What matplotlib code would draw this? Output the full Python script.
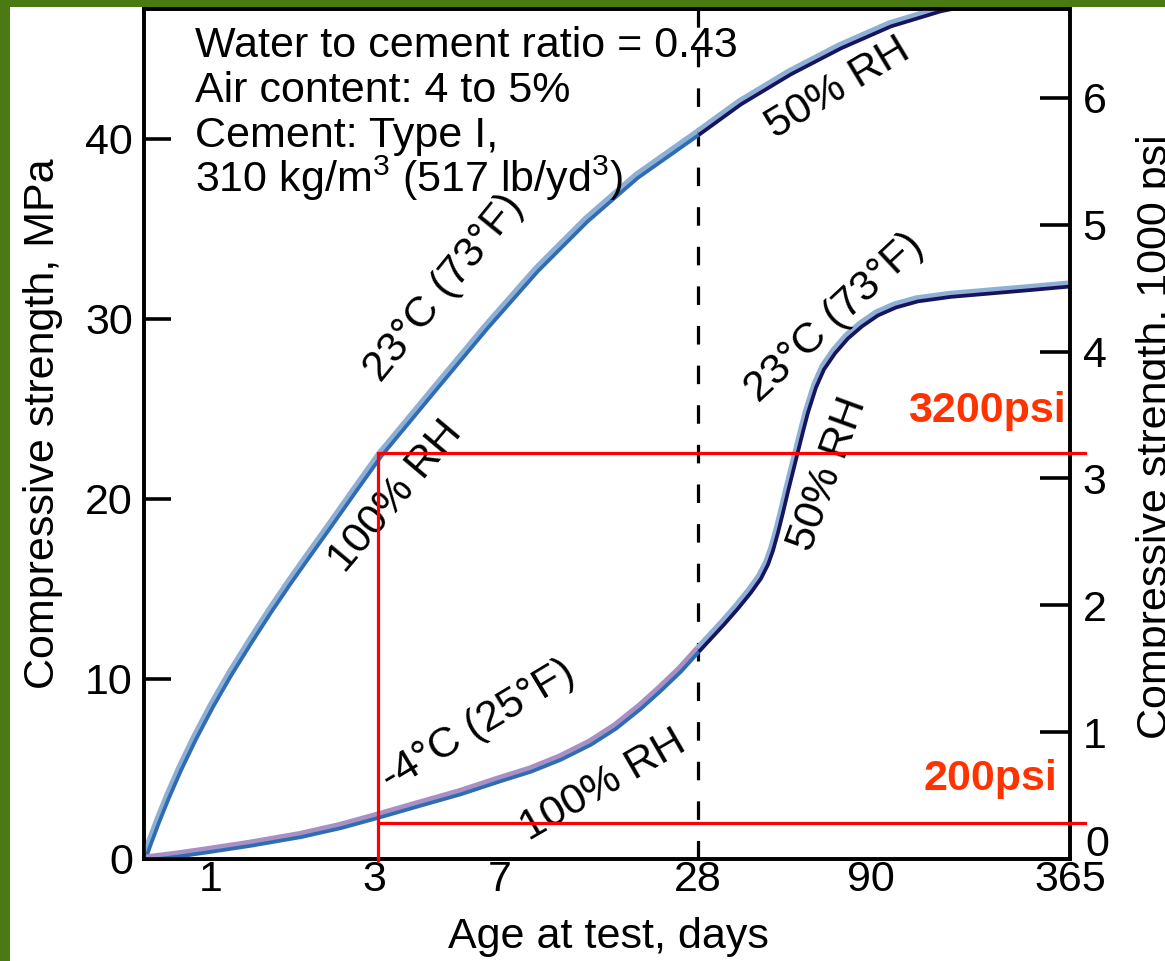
import numpy as np
import matplotlib
matplotlib.use("Agg")
import matplotlib.pyplot as plt
from matplotlib.patches import Rectangle
from matplotlib.transforms import ScaledTranslation
from matplotlib.ticker import FixedLocator, FixedFormatter

plt.rcParams['font.family'] = ['Liberation Sans', 'DejaVu Sans']
plt.rcParams['mathtext.fontset'] = 'custom'
plt.rcParams['mathtext.rm'] = 'Liberation Sans'
plt.rcParams['mathtext.it'] = 'Liberation Sans:italic'
plt.rcParams['mathtext.bf'] = 'Liberation Sans:bold'

# ---------------- data ----------------
AGE_TICKS = [1, 3, 7, 28, 90, 365]
AGE_TICK_LABELS = ['1', '3', '7', '28', '90', '365']
MPA_TICKS = [0, 10, 20, 30, 40]
KPSI_TICKS = [0, 1, 2, 3, 4, 5, 6]
KPSI_TICK_LABELS = ['', '1', '2', '3', '4', '5', '6']

# 23 C, moist cured (100% RH) up to 28 days
upper_moist_days = [0, 0.090, 0.209, 0.358, 0.537, 0.761, 1.012, 1.233, 1.479, 1.724, 1.969,
                    2.215, 2.460, 2.767, 3.190, 4.990, 6.578, 10.892, 16.195, 21.498, 28]
upper_moist_mpa = [0, 0.94, 2.12, 3.49, 5.01, 6.74, 8.53, 10.27, 12.06, 13.78, 15.41,
                   16.98, 18.53, 20.5, 22.44, 26.24, 29.57, 32.72, 35.50, 37.91, 40.31]
# then 23 C, 50% RH
upper_dry_days = [28, 43.05, 60.97, 78.89, 116.26, 185.36, 365]
upper_dry_mpa = [40.31, 42.0, 43.67, 45.11, 46.33, 47.17, 48.6]

# -4 C, 100% RH up to 28 days
lower_cold_days = [0, 0.537, 1.0, 1.479, 2.092, 2.583, 3.127, 4.460, 5.730, 7.0, 10.182,
                   13.364, 16.545, 19.197, 21.848, 23.969, 26.091, 28]
lower_cold_mpa = [0, 0.25, 0.5, 0.83, 1.31, 1.81, 2.39, 3.06, 3.69, 4.42, 4.94,
                  5.61, 6.44, 7.33, 8.44, 9.44, 10.5, 11.61]
# then 23 C, 50% RH
lower_warm_days = [28, 32.30, 36.96, 41.98, 46.64, 50.22, 52.73, 54.52, 56.32, 58.11, 59.90,
                   61.69, 63.48, 65.28, 67.07, 69.94, 72.80, 76.74, 81.40, 86.42, 98.29,
                   123.17, 153.57, 199.18, 254.46, 309.74, 365]
lower_warm_mpa = [11.61, 12.33, 13.11, 14.0, 14.89, 15.67, 16.44, 17.22, 18.22, 19.33, 20.5,
                  21.61, 22.72, 23.83, 24.89, 26.28, 27.28, 28.17, 29.0, 29.67, 30.28,
                  30.72, 31.06, 31.31, 31.5, 31.69, 31.89]

CHANGE_DAY = 28
RED_KPSI = [3.2, 0.28]
RED_DAY = 3.13
RED_TEXTS = ['3200psi', '200psi']

INFO_LINES = ['Water to cement ratio = 0.43',
              'Air content: 4 to 5%',
              'Cement: Type I,',
              '310 kg/m$^{3}$ (517 lb/yd$^{3}$)']

# ---------------- axis scale (non-uniform day axis) ----------------
AX_DAYS = np.array([0, 1, 3, 7, 28, 90, 365], float)
AX_POS = np.array([0, 67, 230, 356, 554, 727, 926], float)


def _pw(v, xs, ys):
    v = np.asarray(v, float)
    scalar = v.ndim == 0
    v = np.atleast_1d(v)
    out = np.interp(v, xs, ys)
    hi = v > xs[-1]
    out[hi] = ys[-1] + (v[hi] - xs[-1]) * (ys[-1] - ys[-2]) / (xs[-1] - xs[-2])
    lo = v < xs[0]
    out[lo] = ys[0] + (v[lo] - xs[0]) * (ys[1] - ys[0]) / (xs[1] - xs[0])
    return out[0] if scalar else out


def fwd(d):
    return _pw(d, AX_DAYS, AX_POS)


def inv(p):
    return _pw(p, AX_POS, AX_DAYS)


W, H = 1165, 961
fig = plt.figure(figsize=(W / 100, H / 100), dpi=100)
fig.patch.set_facecolor('#4c7a12')
fig.add_artist(Rectangle((10 / W, 0), 1, (H - 7) / H, transform=fig.transFigure,
                         facecolor='white', edgecolor='none', zorder=-10))

ax = fig.add_axes([144 / W, 102 / H, 926 / W, 850 / H])
ax.set_xscale('function', functions=(fwd, inv))
ax.set_xlim(0, 365)
ax.set_ylim(0, 47.2)
ax2 = ax.twinx()
ax2.set_ylim(0, 6.70)

LW_SP = 2.6
for a in (ax, ax2):
    for s in a.spines.values():
        s.set_linewidth(LW_SP)

FS = 31
ax.xaxis.set_major_locator(FixedLocator(AGE_TICKS))
ax.xaxis.set_major_formatter(FixedFormatter(AGE_TICK_LABELS))
ax.xaxis.set_minor_locator(FixedLocator([t for t in AGE_TICKS if t not in (28, 365)]))
ax.xaxis.set_minor_formatter(FixedFormatter([]))
ax.tick_params(axis='x', which='major', direction='in', length=0, labelsize=FS, pad=0.5)
ax.tick_params(axis='x', which='minor', direction='in', length=18.5, width=LW_SP)
ax.set_yticks(MPA_TICKS)
ax.tick_params(axis='y', direction='in', length=19.5, width=LW_SP, labelsize=FS, pad=8)
ax2.yaxis.set_major_locator(FixedLocator(KPSI_TICKS))
ax2.yaxis.set_major_formatter(FixedFormatter(KPSI_TICK_LABELS))
ax2.tick_params(axis='y', direction='in', length=21.5, width=LW_SP, labelsize=FS, pad=9)
# the "0" of the right axis sits a little above its tick in the reference
fig.text(1085 / W, (H - 845) / H, '0', ha='left', va='center', fontsize=FS)

# dashed change line
ax.axvline(CHANGE_DAY, color='black', lw=2.3, dashes=(5.8, 6.6), zorder=1.5)

LIGHT_BLUE = '#8fb0d4'
BLUE = '#2e6db4'
NAVY = '#141460'
PURPLE = '#a88fc4'


def band(days, vals, light, dark):
    t_light = ax.transData + ScaledTranslation(-1.0 / 100, 1.7 / 100, fig.dpi_scale_trans)
    t_dark = ax.transData + ScaledTranslation(1.0 / 100, -1.7 / 100, fig.dpi_scale_trans)
    ax.plot(days, vals, color=light, lw=3.7, transform=t_light,
            solid_capstyle='butt', solid_joinstyle='round', zorder=3)
    ax.plot(days, vals, color=dark, lw=2.7, transform=t_dark,
            solid_capstyle='butt', solid_joinstyle='round', zorder=3)


band(upper_moist_days, upper_moist_mpa, LIGHT_BLUE, BLUE)
band(upper_dry_days, upper_dry_mpa, LIGHT_BLUE, NAVY)
band(lower_cold_days, lower_cold_mpa, PURPLE, BLUE)
band(lower_warm_days, lower_warm_mpa, LIGHT_BLUE, NAVY)

# curve labels
labels = [
    ('23°C (73°F)', 5.22, 31.7, 51),
    ('100% RH', 3.70, 20.1, 50),
    ('50% RH', 78.2, 42.8, 31),
    ('23°C (73°F)', 77.1, 30.05, 43),
    ('50% RH', 74.6, 21.4, 70),
    ('-4°C (25°F)', 6.30, 7.4, 31),
    ('100% RH', 17.9, 4.1, 30),
]
for txt, xd, yd, rot in labels:
    ax.text(xd, yd, txt, rotation=rot, rotation_mode='anchor', ha='center', va='center',
            fontsize=FS, zorder=4)

# info block
for i, line in enumerate(INFO_LINES):
    ax.text(0.055, 0.9435 - i * 0.0529, line, transform=ax.transAxes, ha='left',
            va='baseline', fontsize=FS, zorder=4)

# red annotation lines
fig.canvas.draw()
x0 = ax.transAxes.inverted().transform(ax.transData.transform((RED_DAY, 0)))[0]
for lvl in RED_KPSI:
    ax2.axhline(lvl, xmin=x0, xmax=1.016, color='#ff0000', lw=2.3, clip_on=False, zorder=5)
ax2.plot([RED_DAY, RED_DAY], [-0.02, RED_KPSI[0]], color='#ff0000', lw=2.3,
         clip_on=False, zorder=5, solid_capstyle='butt')
ax2.text(359.5, 3.53, RED_TEXTS[0], ha='right', va='center', fontsize=31,
         fontweight='bold', color='#ff3300', zorder=5)
ax2.text(347, 0.63, RED_TEXTS[1], ha='right', va='center', fontsize=31,
         fontweight='bold', color='#ff3300', zorder=5)

# axis titles
fig.text(23 / W, (H - 424) / H, 'Compressive strength, MPa', rotation=90,
         ha='left', va='center', fontsize=FS)
fig.text(1136 / W, (H - 437) / H, 'Compressive strength, 1000 psi', rotation=90,
         ha='left', va='center', fontsize=FS)
fig.text(608 / W, (H - 937) / H, 'Age at test, days', ha='center', va='center', fontsize=FS)

fig.savefig('out.png', dpi=100, facecolor=fig.get_facecolor())
